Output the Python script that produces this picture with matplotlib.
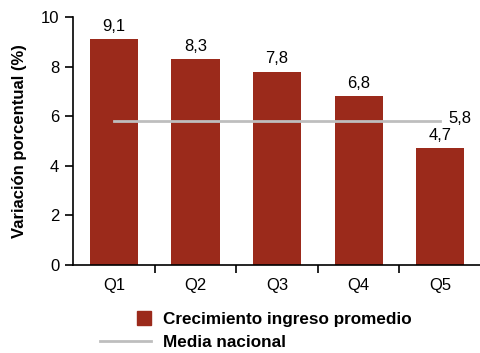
import matplotlib.pyplot as plt
import matplotlib.patches as mpatches
from matplotlib.lines import Line2D
from matplotlib.legend_handler import HandlerPatch

plt.rcParams['font.family'] = ['Liberation Sans', 'DejaVu Sans']

quintiles = ["Q1", "Q2", "Q3", "Q4", "Q5"]
crecimiento = [9.1, 8.3, 7.8, 6.8, 4.7]
media_nacional = 5.8

bar_color = "#9B2A1B"
line_color = "#BEBEBE"

fig = plt.figure(figsize=(4.81, 3.53), dpi=100)
ax = fig.add_axes([0.152, 0.249, 0.848, 0.703])

x = list(range(len(quintiles)))
ax.bar(x, crecimiento, width=0.59, color=bar_color, zorder=2)
ax.plot([x[0], x[-1]], [media_nacional] * 2, color=line_color, linewidth=2, zorder=3)

for xi, v in zip(x, crecimiento):
    ax.text(xi, v + 0.22, f"{v:.1f}".replace(".", ","), ha="center", va="bottom", fontsize=12)
ax.text(x[-1] + 0.1, media_nacional + 0.12, f"{media_nacional:.1f}".replace(".", ","),
        ha="left", va="center", fontsize=12)

ax.set_xlim(-0.5, 4.5)
ax.set_ylim(0, 10)
ax.set_yticks([0, 2, 4, 6, 8, 10])
ax.set_xticks(x)
ax.set_xticklabels(quintiles)
ax.set_xticks([0.5, 1.5, 2.5, 3.5], minor=True)
ax.tick_params(axis="x", which="major", length=0, labelsize=12, pad=9)
ax.tick_params(axis="x", which="minor", length=6, width=1.2, direction="out")
ax.tick_params(axis="y", labelsize=12, length=6, width=1.2, pad=4)

for s in ["top", "right"]:
    ax.spines[s].set_visible(False)
ax.spines["left"].set_linewidth(1.2)
ax.spines["bottom"].set_linewidth(1.2)

ax.set_ylabel("Variación porcentual (%)", fontsize=12, fontweight="bold", labelpad=10)


# cuadrado pequeño a la derecha del espacio del símbolo
def square_patch(legend, orig_handle, xdescent, ydescent, width, height, fontsize):
    side = 10.5
    return mpatches.Rectangle((width - side - xdescent, -ydescent + (height - side) / 2),
                              side, side)


handles = [
    mpatches.Patch(color=bar_color, label="Crecimiento ingreso promedio"),
    Line2D([0], [0], color=line_color, linewidth=2, label="Media nacional"),
]
fig.legend(handles=handles, loc="center left", bbox_to_anchor=(0.176, 0.062), frameon=False,
           prop={"size": 12.3, "weight": "bold"}, handlelength=3.0, handletextpad=0.7,
           labelspacing=0.5,
           handler_map={mpatches.Patch: HandlerPatch(patch_func=square_patch)})

fig.savefig("out.png", dpi=100)
